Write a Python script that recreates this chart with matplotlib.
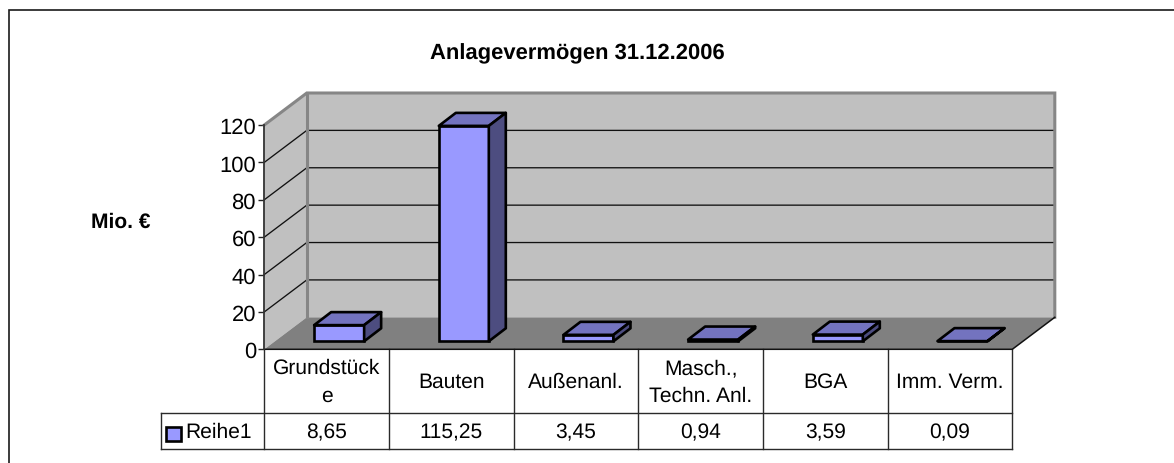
import matplotlib
matplotlib.use("Agg")
import matplotlib.pyplot as plt
from matplotlib.patches import Polygon, Rectangle
from matplotlib.lines import Line2D
from matplotlib.transforms import ScaledTranslation

plt.rcParams['font.family'] = ['Liberation Sans', 'DejaVu Sans']
plt.rcParams['text.hinting'] = 'none'
plt.rcParams['text.hinting_factor'] = 1

title = "Anlagevermögen 31.12.2006"
y_label = "Mio. €"
series_name = "Reihe1"
categories = ["Grundstück\ne", "Bauten", "Außenanl.", "Masch.,\nTechn. Anl.", "BGA", "Imm. Verm."]
values = [8.65, 115.25, 3.45, 0.94, 3.59, 0.09]
y_ticks = [0, 20, 40, 60, 80, 100, 120]

W, H = 1174, 463
FS = 15.4
FRONT, TOP, SIDE = "#9999FF", "#7373BF", "#4D4D80"
WALL, FLOOR, EDGE = "#C0C0C0", "#808080", "#868686"

fig = plt.figure(figsize=(W / 100, H / 100), dpi=100, facecolor="white")
x0, x1, y0, y1 = 264.3, 1012.3, 349.3, 125.0
ax = fig.add_axes([x0 / W, (H - y0) / H, (x1 - x0) / W, (y0 - y1) / H])
ax.set_xlim(0, len(categories))
ax.set_ylim(0, 120)
ax.patch.set_visible(False)
for s in ("top", "right", "bottom"):
    ax.spines[s].set_visible(False)
ax.spines["left"].set_color("#333333")
ax.spines["left"].set_linewidth(1.3)
ax.spines["left"].set_zorder(6)
ax.set_xticks([])
ax.set_yticks(y_ticks)
ax.tick_params(axis="y", labelsize=16, length=4.5, width=1.0, color="#222222", pad=1.5)
label_shift = ScaledTranslation(0, -1.0 / 100, fig.dpi_scale_trans)
for lab in ax.get_yticklabels():
    lab.set_transform(lab.get_transform() + label_shift)

ppx = len(categories) / (x1 - x0)          # categories per pixel
ppy = 120 / (y0 - y1)                      # value units per pixel
dx, dy = 42.5 * ppx, 32 * ppy              # depth of the plot box
n = len(categories)


def poly(pts, **kw):
    kw.setdefault("clip_on", False)
    kw.setdefault("linewidth", 0)
    ax.add_patch(Polygon(pts, closed=True, **kw))


# walls and floor
poly([(0, 0), (dx, dy), (dx, 120 + dy), (0, 120)], facecolor=WALL, zorder=1)
poly([(dx, dy), (n + dx, dy), (n + dx, 120 + dy), (dx, 120 + dy)], facecolor=WALL, zorder=1)
poly([(0, 0), (n, 0), (n + dx, dy), (dx, dy)], facecolor=FLOOR, zorder=1)

# gridlines
for t in y_ticks[1:-1]:
    ax.plot([0, dx, n + dx], [t, t + dy, t + dy], color="#111111", lw=0.95, clip_on=False, zorder=2)
# wall borders
ax.plot([0, dx, n + dx, n + dx], [120, 120 + dy, 120 + dy, dy], color=EDGE, lw=2.2,
        clip_on=False, zorder=3, solid_joinstyle="miter")
ax.plot([dx, dx], [dy, 120 + dy], color=EDGE, lw=2.2, clip_on=False, zorder=3)
ax.plot([0, n, n + dx], [0, 0, dy], color="#111111", lw=1.1, clip_on=False, zorder=4)

# bars
bw = 50 * ppx
shift, base = 12.5 * ppx, 8 * ppy
bdx, bdy = 17 * ppx, 13 * ppy
lw = 1.9
centers = [i + 0.5 + shift for i in range(n)]
ax.bar(centers, values, width=bw, bottom=base, color=FRONT, edgecolor="black", linewidth=lw,
       clip_on=False, zorder=5)
for c, v in zip(centers, values):
    l, r, t = c - bw / 2, c + bw / 2, base + v
    poly([(l, t), (r, t), (r + bdx, t + bdy), (l + bdx, t + bdy)], facecolor=TOP, edgecolor="black",
         linewidth=lw, zorder=5, joinstyle="round")
    poly([(r, base), (r + bdx, base + bdy), (r + bdx, t + bdy), (r, t)], facecolor=SIDE, edgecolor="black",
         linewidth=lw, zorder=5, joinstyle="round")

# data table
row1, row2 = -64 * ppy, -99.7 * ppy
leg_left = (161.3 - x0) * ppx
tbl = dict(color="#2a2a2a", lw=1.0, clip_on=False, zorder=3)
ax.plot([leg_left, n], [row1, row1], **tbl)
ax.plot([leg_left, n], [row2, row2], **tbl)
ax.plot([leg_left, leg_left], [row1, row2], **tbl)
for i in range(n + 1):
    ax.plot([i, i], [0, row2], **tbl)
for i, (cat, v) in enumerate(zip(categories, values)):
    ax.text(i + 0.5, row1 / 2 - 1 * ppy, cat, ha="center", va="center", fontsize=FS, linespacing=1.5, clip_on=False)
    ax.text(i + 0.5, (row1 + row2) / 2 - 1.5 * ppy, f"{v:.2f}".replace(".", ","), ha="center", va="center",
            fontsize=FS, clip_on=False)
# legend key in the table
ax.add_patch(Rectangle(((165.8 - x0) * ppx, (y0 - 441) * ppy), 15 * ppx, 14 * ppy, facecolor=FRONT,
                       edgecolor="black", linewidth=1.9, clip_on=False, zorder=5))
ax.text((185.5 - x0) * ppx, (row1 + row2) / 2 - 1.5 * ppy, series_name, ha="left", va="center", fontsize=FS, clip_on=False)

# title, axis title, chart frame
fig.text(577 / W, 1 - 53.5 / H, title, ha="center", va="center", fontsize=15.5, fontweight="bold")
fig.text(120.5 / W, 1 - 222 / H, y_label, ha="center", va="center", fontsize=FS, fontweight="bold")
fig.add_artist(Line2D([8.6 / W, 8.6 / W, 1], [0, 1 - 10.3 / H, 1 - 10.3 / H], color="#1a1a1a", lw=1.2,
                      transform=fig.transFigure, solid_joinstyle="miter"))

fig.savefig("out.png", dpi=100, facecolor="white")
